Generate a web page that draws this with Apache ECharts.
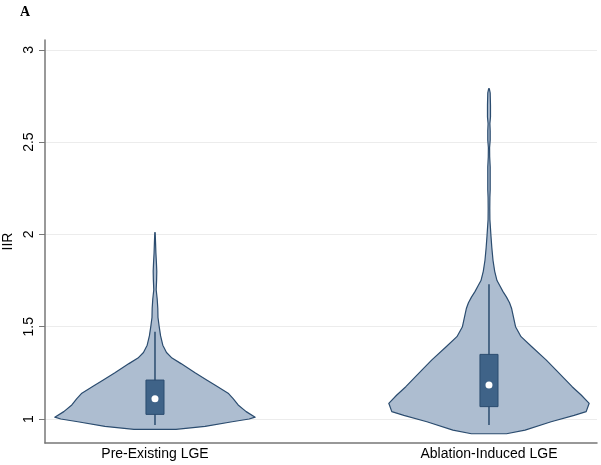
<!DOCTYPE html>
<html><head><meta charset="utf-8">
<script src="https://cdn.jsdelivr.net/npm/echarts@6/dist/echarts.min.js"></script>
<style>html,body{margin:0;padding:0;background:#fff}#c{width:601px;height:465px}</style>
</head><body><div id="c"></div>
<script>
// ---- data ----
const categories = ['Pre-Existing LGE', 'Ablation-Induced LGE'];
const yTicks = [1, 1.5, 2, 2.5, 3];

// violin outline: IIR value and relative density (1 = widest)
const preIIR = [0.944, 0.96, 0.985, 1.0, 1.01, 1.04, 1.076, 1.11, 1.14, 1.18, 1.21, 1.25, 1.30, 1.33, 1.36, 1.40, 1.45, 1.50, 1.55, 1.60, 1.65, 1.70, 1.75, 1.80, 1.85, 1.90, 1.95, 2.01];
const preDensity = [0.21, 0.50, 0.77, 0.94, 1.00, 0.91, 0.83, 0.78, 0.73, 0.61, 0.52, 0.40, 0.26, 0.17, 0.115, 0.078, 0.056, 0.042, 0.03, 0.028, 0.022, 0.012, 0.016, 0.018, 0.014, 0.009, 0.006, 0.002];

const ablIIR = [0.92, 0.94, 0.985, 1.02, 1.04, 1.085, 1.13, 1.175, 1.22, 1.265, 1.32, 1.39, 1.446, 1.50, 1.55, 1.60, 1.63, 1.66, 1.69, 1.72, 1.75, 1.80, 1.86, 1.93, 1.99, 2.04, 2.08, 2.14, 2.20, 2.24, 2.30, 2.365, 2.42, 2.47, 2.51, 2.56, 2.60, 2.636, 2.70, 2.766, 2.79];
const ablDensity = [0.175, 0.36, 0.62, 0.85, 0.97, 1.00, 0.92, 0.83, 0.75, 0.67, 0.57, 0.43, 0.32, 0.265, 0.245, 0.225, 0.205, 0.175, 0.14, 0.11, 0.08, 0.057, 0.04, 0.028, 0.02, 0.014, 0.009, 0.008, 0.009, 0.012, 0.012, 0.012, 0.007, 0.006, 0.012, 0.012, 0.009, 0.015, 0.015, 0.012, 0.003];

// box stats: lower whisker, q1, median, q3, upper whisker
const preBox = [0.967, 1.025, 1.11, 1.211, 1.473];
const ablBox = [0.967, 1.067, 1.184, 1.35, 1.73];

// ---- rendering ----
const HALF = 0.3;      // max violin half-width in x-axis units
const BOX_HALF = 0.027;
const VIOLIN_FILL = '#adbdd0', VIOLIN_LINE = '#2b4c6f';
const BOX_FILL = '#3f6388', BOX_LINE = '#2b4c6f';

function makeRender(iir, dens, stats, pos) {
  return function (params, api) {
    const pts = [];
    for (let i = 0; i < iir.length; i++) pts.push(api.coord([pos + dens[i] * HALF, iir[i]]));
    for (let i = iir.length - 1; i >= 0; i--) pts.push(api.coord([pos - dens[i] * HALF, iir[i]]));
    const wLo = api.coord([pos, stats[0]]), wHi = api.coord([pos, stats[4]]);
    const bl = api.coord([pos - BOX_HALF, stats[1]]), tr = api.coord([pos + BOX_HALF, stats[3]]);
    const med = api.coord([pos, stats[2]]);
    return {
      type: 'group', children: [
        { type: 'polygon', shape: { points: pts }, style: { fill: VIOLIN_FILL, stroke: VIOLIN_LINE, lineWidth: 1.2, lineJoin: 'round' } },
        { type: 'line', shape: { x1: wLo[0], y1: wLo[1], x2: wHi[0], y2: wHi[1] }, style: { stroke: BOX_LINE, lineWidth: 1.5 } },
        { type: 'rect', shape: { x: bl[0], y: tr[1], width: tr[0] - bl[0], height: bl[1] - tr[1] }, style: { fill: BOX_FILL, stroke: BOX_LINE, lineWidth: 1 } },
        { type: 'circle', shape: { cx: med[0], cy: med[1], r: 3.5 }, style: { fill: '#ffffff' } }
      ]
    };
  };
}

const chart = echarts.init(document.getElementById('c'), null, { renderer: 'canvas' });
chart.setOption({
  animation: false,
  title: { text: 'A', left: 15, top: 0, textStyle: { fontFamily: 'Liberation Serif', fontWeight: 'bold', fontSize: 14, color: '#000' } },
  grid: { left: 45, top: 40, width: 552, height: 403, containLabel: false, outerBoundsMode: 'none' },
  xAxis: {
    type: 'value', min: 0.6707, max: 2.3234,
    axisLine: { show: true, lineStyle: { color: '#777', width: 1.5 } },
    axisTick: { show: false },
    splitLine: { show: false },
    axisLabel: {
      customValues: [1, 2],
      formatter: v => categories[Math.round(v) - 1],
      fontFamily: 'Liberation Sans', fontSize: 14, color: '#000', margin: 4
    }
  },
  yAxis: {
    type: 'value', min: 0.87, max: 3.053,
    name: 'IIR', nameLocation: 'middle', nameRotate: 90, nameGap: 30, nameMoveOverlap: false,
    nameTextStyle: { fontFamily: 'Liberation Sans', fontSize: 14, color: '#000' },
    axisLine: { show: true, lineStyle: { color: '#777', width: 1.5 } },
    axisTick: { show: true, customValues: yTicks, length: 6, lineStyle: { color: '#777' } },
    axisLabel: { customValues: yTicks, rotate: 90, fontFamily: 'Liberation Sans', fontSize: 14, color: '#000', margin: 9 },
    splitLine: { show: true, lineStyle: { color: '#ececec', width: 1 } }
  },
  series: [
    { type: 'custom', name: categories[0], data: [[1, preBox[2]]], renderItem: makeRender(preIIR, preDensity, preBox, 1), clip: false },
    { type: 'custom', name: categories[1], data: [[2, ablBox[2]]], renderItem: makeRender(ablIIR, ablDensity, ablBox, 2), clip: false }
  ]
});
</script>
</body></html>
